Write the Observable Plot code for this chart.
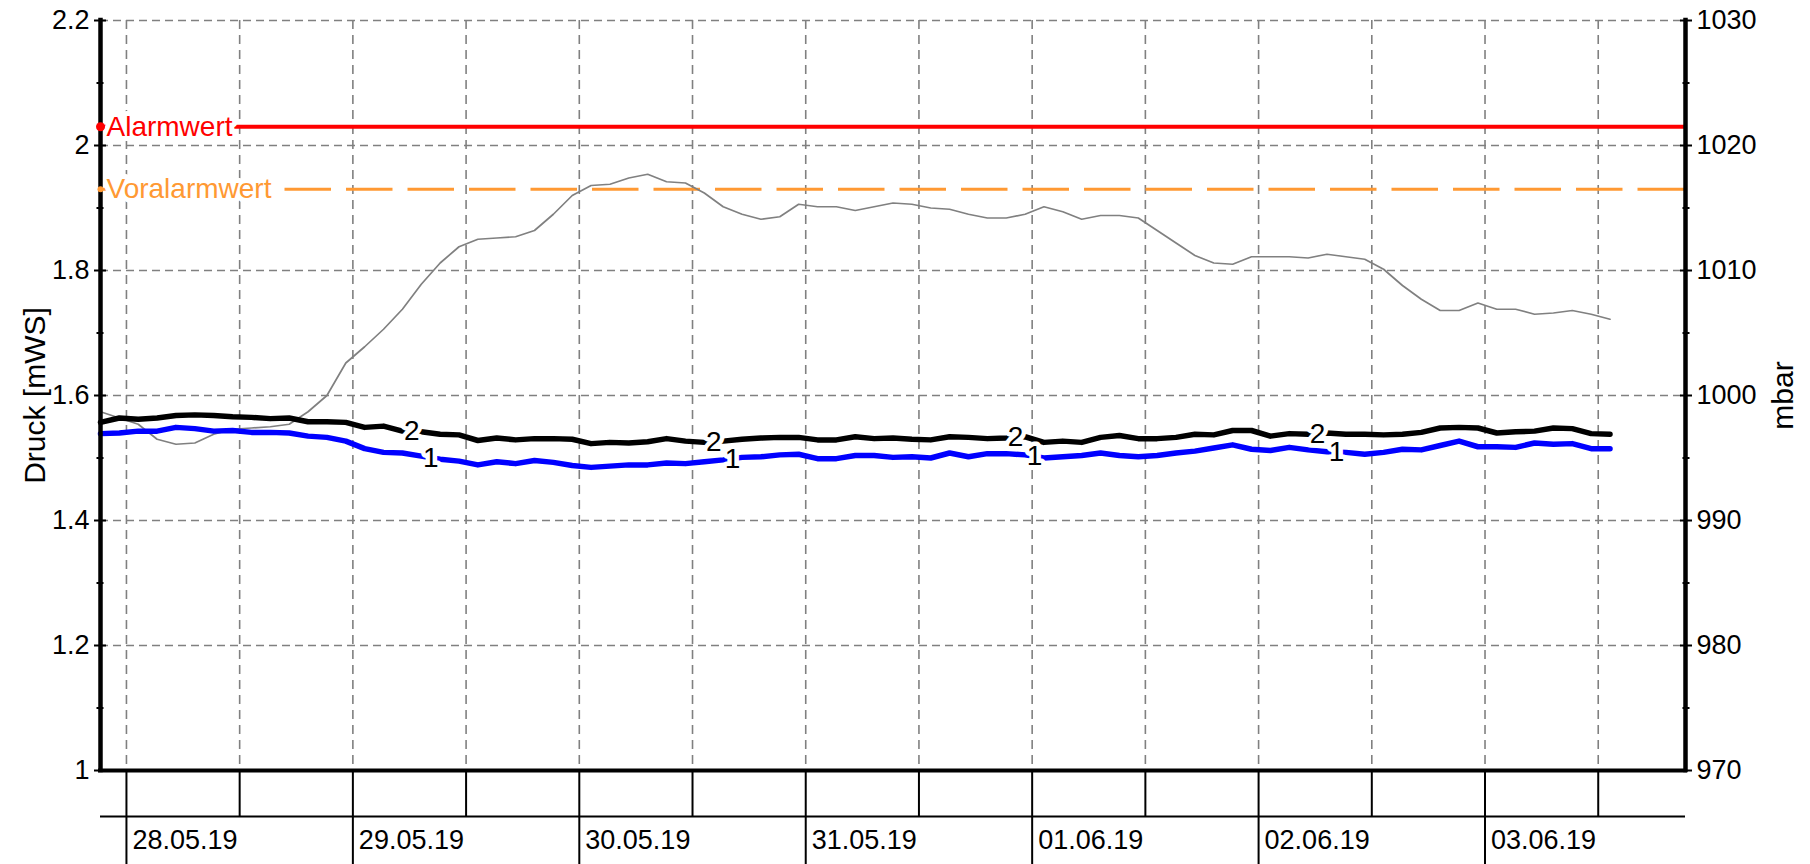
<!DOCTYPE html>
<html><head><meta charset="utf-8">
<script src="https://cdn.jsdelivr.net/npm/d3@7"></script>
<script src="https://cdn.jsdelivr.net/npm/@observablehq/plot@0.6"></script>
<style>
html,body{margin:0;padding:0;background:#fff;}
#chart{width:1810px;height:864px;}
</style></head><body><div id="chart"></div>
<script>
// ---- data ----
const startTime = "2019-05-27T21:15:00Z";
const endTime = "2019-06-03T21:15:00Z";
const stepHours = 2;

// grey line, right axis [mbar]
const luftdruckMbar = [
  998.7, 998.2, 997.7, 996.5, 996.1, 996.2, 996.9, 997.3, 997.4, 997.5, 997.7, 998.7, 1000.0, 1002.6, 1003.9, 1005.3, 1006.9, 1008.9, 1010.6, 1011.9, 1012.5, 1012.6,
  1012.7, 1013.2, 1014.5, 1016.0, 1016.8, 1016.9, 1017.4, 1017.7, 1017.1, 1017.0, 1016.2, 1015.1, 1014.5, 1014.1, 1014.3, 1015.3, 1015.1, 1015.1, 1014.8, 1015.1, 1015.4,
  1015.3, 1015.0, 1014.9, 1014.5, 1014.2, 1014.2, 1014.5, 1015.1, 1014.7, 1014.1, 1014.4, 1014.4, 1014.2, 1013.2, 1012.2, 1011.2, 1010.6, 1010.5, 1011.1, 1011.1, 1011.1,
  1011.0, 1011.3, 1011.1, 1010.9, 1010.1, 1008.8, 1007.7, 1006.8, 1006.8, 1007.4, 1006.9, 1006.9, 1006.5, 1006.6, 1006.8, 1006.5, 1006.1
];
// black line "2", left axis [mWS]
const druckSensor2 = [
  1.557, 1.564, 1.562, 1.564, 1.568, 1.569, 1.568, 1.566, 1.565, 1.563, 1.564, 1.558, 1.558, 1.557, 1.549, 1.551, 1.543, 1.542, 1.538, 1.537, 1.528, 1.532,
  1.529, 1.531, 1.531, 1.530, 1.523, 1.525, 1.524, 1.526, 1.531, 1.527, 1.525, 1.527, 1.530, 1.532, 1.533, 1.533, 1.529, 1.529, 1.534, 1.531, 1.532,
  1.530, 1.529, 1.534, 1.533, 1.531, 1.532, 1.534, 1.525, 1.527, 1.525, 1.533, 1.536, 1.531, 1.531, 1.533, 1.538, 1.537, 1.544, 1.544, 1.535, 1.539,
  1.538, 1.540, 1.538, 1.538, 1.537, 1.538, 1.541, 1.548, 1.549, 1.548, 1.540, 1.542, 1.543, 1.548, 1.547, 1.539, 1.538
];
// blue line "1", left axis [mWS]
const druckSensor1 = [
  1.539, 1.540, 1.543, 1.543, 1.549, 1.547, 1.543, 1.544, 1.541, 1.541, 1.540, 1.535, 1.533, 1.527, 1.515, 1.509, 1.508, 1.503, 1.498, 1.495, 1.489, 1.494,
  1.491, 1.496, 1.493, 1.488, 1.485, 1.487, 1.489, 1.489, 1.492, 1.491, 1.494, 1.497, 1.501, 1.502, 1.505, 1.506, 1.499, 1.499, 1.504, 1.504, 1.501,
  1.502, 1.500, 1.508, 1.502, 1.507, 1.507, 1.505, 1.500, 1.502, 1.504, 1.508, 1.504, 1.502, 1.504, 1.508, 1.511, 1.516, 1.521, 1.514, 1.512, 1.517,
  1.513, 1.510, 1.509, 1.506, 1.509, 1.514, 1.513, 1.520, 1.527, 1.518, 1.518, 1.517, 1.524, 1.522, 1.523, 1.515, 1.515
];
const alarmwert = 2.03;
const voralarmwert = 1.93;
const leftTicks = [1, 1.2, 1.4, 1.6, 1.8, 2, 2.2];
const leftMinorTicks = [1.1, 1.3, 1.5, 1.7, 1.9, 2.1];
const rightTicks = [970, 980, 990, 1000, 1010, 1020, 1030];
const rightMinorTicks = [975, 985, 995, 1005, 1015, 1025];
const dayTicks = ["2019-05-28", "2019-05-29", "2019-05-30", "2019-05-31", "2019-06-01", "2019-06-02", "2019-06-03"];
const halfDayTicks = ["2019-05-28T12:00", "2019-05-29T12:00", "2019-05-30T12:00", "2019-05-31T12:00", "2019-06-01T12:00", "2019-06-02T12:00", "2019-06-03T12:00"];
const label2At = [16, 32, 48, 64];
const label1At = [17, 33, 49, 65];
const yLabelLeft = "Druck [mWS]";
const yLabelRight = "mbar";

// ---- build ----
const t0 = new Date(startTime);
const t1 = new Date(endTime);
const timeAt = k => new Date(t0.getTime() + k * stepHours * 3600e3);
const mbarToDruck = m => 1 + (m - 970) / 50;
const druckToMbar = d => Math.round(970 + (d - 1) * 50);
const utc = s => new Date(s + (s.length > 10 ? ":00Z" : "T00:00:00Z"));

const rowsG = luftdruckMbar.map((m, k) => ({t: timeAt(k), v: mbarToDruck(m)}));
const rows2 = druckSensor2.map((v, k) => ({t: timeAt(k), v}));
const rows1 = druckSensor1.map((v, k) => ({t: timeAt(k), v}));
const midLabel = (arr, idx, s) => idx.map(k => ({
  t: new Date((timeAt(k).getTime() + timeAt(k + 1).getTime()) / 2),
  v: (arr[k] + arr[k + 1]) / 2, s}));
const seriesLabels = [...midLabel(druckSensor2, label2At, "2"), ...midLabel(druckSensor1, label1At, "1")];

const days = dayTicks.map(utc);
const halfDays = halfDayTicks.map(utc);
const gridTimes = [...days, ...halfDays];
const gridLevels = leftTicks.filter(d => d > 1);
const orange = "#ff9933";
const fmtDay = d3.utcFormat("%d.%m.%y");

const chart = Plot.plot({
  width: 1810,
  height: 864,
  marginLeft: 100,
  marginRight: 125,
  marginTop: 20,
  marginBottom: 94,
  style: {fontFamily: "'Liberation Sans', Arial, Helvetica, sans-serif", fontSize: "27px", background: "white", color: "black", overflow: "visible"},
  x: {type: "utc", domain: [t0, t1], axis: null},
  y: {domain: [1, 2.2], axis: null},
  marks: [
    // grid
    Plot.ruleX(gridTimes, {stroke: "#808080", strokeWidth: 1.6, strokeDasharray: "9,6"}),
    Plot.ruleY(gridLevels, {stroke: "#808080", strokeWidth: 1.6, strokeDasharray: "8,5"}),
    // alarm levels
    Plot.ruleY([alarmwert], {stroke: "#ff0000", strokeWidth: 4}),
    Plot.ruleY([voralarmwert], {stroke: orange, strokeWidth: 3, strokeDasharray: "46.5,15"}),
    Plot.text([{t: t0, v: alarmwert, s: "Alarmwert"}], {x: "t", y: "v", text: "s", textAnchor: "start", dx: 6, fill: "#ff0000", stroke: "white", strokeWidth: 10, fontSize: 28}),
    Plot.text([{t: t0, v: voralarmwert, s: "Voralarmwert"}], {x: "t", y: "v", text: "s", textAnchor: "start", dx: 6, fill: orange, stroke: "white", strokeWidth: 10, fontSize: 28}),
    // series
    Plot.line(rowsG, {x: "t", y: "v", stroke: "#808080", strokeWidth: 1.7}),
    Plot.line(rows2, {x: "t", y: "v", stroke: "black", strokeWidth: 5.5}),
    Plot.line(rows1, {x: "t", y: "v", stroke: "#0000ff", strokeWidth: 5.5}),
    Plot.text(seriesLabels, {x: "t", y: "v", text: "s", fill: "black", stroke: "white", strokeWidth: 9, fontSize: 28}),
    // axis lines
    Plot.ruleX([t0, t1], {stroke: "black", strokeWidth: 4.5, strokeLinecap: "square"}),
    Plot.ruleY([1], {stroke: "black", strokeWidth: 4, strokeLinecap: "square"}),
    // left axis
    Plot.axisY(leftTicks, {anchor: "left", tickSize: 12, dx: 6, tickPadding: 5, strokeWidth: 2, tickFormat: d => String(d), label: null}),
    Plot.axisY(leftMinorTicks, {anchor: "left", tickSize: 7, dx: 3.5, strokeWidth: 2, fill: "none", label: null}),
    // right axis
    Plot.axisY(rightTicks.map(mbarToDruck), {anchor: "right", tickSize: 12, dx: -6, tickPadding: 5, strokeWidth: 2, tickFormat: d => String(druckToMbar(d)), label: null}),
    Plot.axisY(rightMinorTicks.map(mbarToDruck), {anchor: "right", tickSize: 7, dx: -3.5, strokeWidth: 2, fill: "none", label: null}),
    // bottom time band
    Plot.axisX(halfDays, {anchor: "bottom", tickSize: 46, strokeWidth: 2, fill: "none", label: null}),
    Plot.axisX(days, {anchor: "bottom", tickSize: 94, strokeWidth: 2, fill: "none", label: null}),
    Plot.ruleY([1], {dy: 46, stroke: "black", strokeWidth: 2}),
    Plot.axisX(days, {anchor: "bottom", tickSize: 0, tickPadding: 59, textAnchor: "start", dx: 6, tickFormat: fmtDay, label: null}),
    // axis titles
    Plot.text([yLabelLeft], {text: d => d, frameAnchor: "left", textAnchor: "middle", lineAnchor: "middle", rotate: -90, dx: -65, fill: "black", fontSize: 30}),
    Plot.text([yLabelRight], {text: d => d, frameAnchor: "right", textAnchor: "middle", lineAnchor: "middle", rotate: -90, dx: 98, fill: "black", fontSize: 30}),
    // alarm dots
    Plot.dot([{t: t0, v: alarmwert}], {x: "t", y: "v", r: 4.5, fill: "#ff0000"}),
    Plot.dot([{t: t0, v: voralarmwert}], {x: "t", y: "v", r: 3, fill: orange})
  ]
});
document.getElementById("chart").appendChild(chart);
</script>
</body></html>
